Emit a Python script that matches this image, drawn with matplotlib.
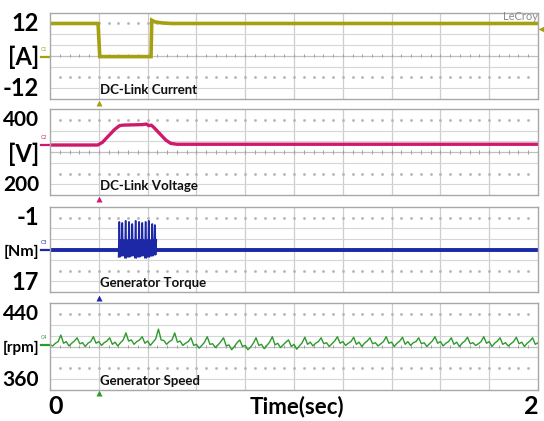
import matplotlib
matplotlib.use("Agg")
import matplotlib.pyplot as plt
import numpy as np

plt.rcParams['font.family'] = ['Liberation Sans Narrow', 'Lato', 'DejaVu Sans']

# scope traces, values in screen divisions (8 divisions per channel, centre = 0)
# DC-link current
cur_t = [0, 0.197, 0.204, 0.414, 0.417, 0.43, 0.46, 0.5, 2.0]
cur_v = [3.0, 3.0, -0.07, -0.07, 3.3, 3.15, 3.05, 3.0, 3.0]

# DC-link voltage
volt_t = [0, 0.196, 0.215, 0.24, 0.265, 0.285, 0.30, 0.38, 0.395, 0.405, 0.415,
          0.425, 0.45, 0.475, 0.495, 0.52, 2.0]
volt_v = [0.65, 0.65, 0.9, 1.5, 2.1, 2.45, 2.5, 2.55, 2.6, 2.45, 2.5,
          2.3, 1.7, 1.1, 0.8, 0.72, 0.72]

# generator torque: flat noisy band plus a burst of spikes
torq_t = [0, 0.279, 0.43, 0.46, 2.0]
torq_v = [0, 0, 0, 0, 0]
spike_t = [0.284, 0.296, 0.310, 0.324, 0.337, 0.351, 0.365, 0.378, 0.392, 0.405, 0.419, 0.430]
spike_h = [2.6, 2.5, 2.7, 2.6, 2.4, 2.7, 2.6, 2.5, 2.6, 2.7, 2.4, 2.3]
spike_lo = [-0.7, -0.6, -0.8, -0.7, -0.6, -0.8, -0.7, -0.6, -0.8, -0.7, -0.6, -0.5]

# generator speed ripple, sampled every 1/90 s
speed_v = [0.15, 0.05, 0.3, 0.45,
           1.05, 0.3, 0.45, 0.05, 0.3, 0.5,
           0.8, 0.25, 0.35, 0.0, 0.3, 0.45,
           0.9, 0.3, 0.45, 0.1, 0.35, 0.5,
           0.8, 0.2, 0.4, 0.05, 0.35, 0.6,
           1.25, 0.5, 0.6, 0.2, 0.45, 0.6,
           0.9, 0.3, 0.5, 0.1, 0.4, 0.7,
           1.6, 0.6, 0.55, 0.2, 0.45, 0.6,
           1.25, 0.4, 0.5, 0.1, 0.3, 0.45,
           0.8, 0.1, 0.2, -0.15, 0.1, 0.4,
           0.9, 0.2, 0.25, -0.1, 0.15, 0.45,
           0.8, 0.05, 0.15, -0.3, 0.0, 0.35,
           0.6, 0.0, 0.1, -0.3, -0.05, 0.3,
           0.8, 0.1, 0.2, -0.2, 0.1, 0.4,
           0.9, 0.15, 0.3, -0.1, 0.15, 0.4,
           0.6, 0.0, 0.2, -0.25, 0.05, 0.35,
           0.85, 0.2, 0.4, 0.05, 0.3, 0.45,
           0.8, 0.25, 0.35, 0.0, 0.25, 0.5,
           0.9, 0.3, 0.45, 0.1, 0.3, 0.45,
           0.85, 0.2, 0.4, 0.0, 0.3, 0.5,
           0.8, 0.25, 0.35, 0.05, 0.25, 0.45,
           0.9, 0.3, 0.4, 0.0, 0.3, 0.5,
           0.85, 0.2, 0.45, 0.1, 0.35, 0.45,
           0.8, 0.25, 0.35, 0.0, 0.25, 0.5,
           0.9, 0.3, 0.45, 0.05, 0.3, 0.45,
           0.8, 0.2, 0.4, 0.0, 0.3, 0.5,
           0.85, 0.25, 0.35, 0.1, 0.25, 0.45,
           0.9, 0.3, 0.45, 0.0, 0.3, 0.5,
           0.8, 0.2, 0.35, 0.05, 0.25, 0.45,
           0.85, 0.25, 0.4, 0.0, 0.3, 0.5,
           0.8, 0.2, 0.35, 0.05, 0.25, 0.4]

ch_names = ['DC-Link Current', 'DC-Link Voltage', 'Generator Torque', 'Generator Speed']
ch_colors = ['#a59f12', '#cf1a6c', '#1c28a6', '#2c9a2c']
ch_tags = ['C1', 'C2', 'C3', 'C4']
ch_base = [-0.07, 0.65, 0.0, 0.14]
top_lbl = ['12', '400', '-1', '440']
mid_lbl = ['[A]', '[V]', '[Nm]', '[rpm]']
bot_lbl = ['-12', '200', '17', '360']

W, H = 544, 421
fig = plt.figure(figsize=(W / 100, H / 100), dpi=100)

# panel rows in pixels (top, bottom)
rows = [(12.7, 99), (109, 195), (207, 292), (303, 390)]
left, right = 50, 538
axs = []
for top, bot in rows:
    ax = fig.add_axes([left / W, 1 - bot / H, (right - left) / W, (bot - top) / H])
    ax.set_xlim(0, 2)
    ax.set_ylim(-4, 4)
    ax.set_xticks([])
    ax.set_yticks([])
    for s in ax.spines.values():
        s.set_color('#a8a8a8')
        s.set_linewidth(1.0)
    # scope graticule
    for x in np.arange(0.2, 2.0, 0.2):
        ax.axvline(x, color='#cdcdcd', lw=0.9, zorder=0)
    for y in [-3, -1, 1, 2]:
        ax.axhline(y, color='#d6d6d6', lw=0.8, zorder=0)
    for y in [3, -2]:
        ax.plot(np.arange(0.04, 2, 0.04), np.full(49, y), ls='none', marker='s',
                ms=0.9, color='#b5b5b5', zorder=0)
    ax.axhline(0, color='#c0c0c0', lw=0.9, zorder=0)
    ax.vlines(np.arange(0.04, 2, 0.04), -0.15, 0.15, color='#a0a0a0', lw=0.7, zorder=0)
    axs.append(ax)

# traces
axs[0].plot(cur_t, cur_v, color=ch_colors[0], lw=2.6, solid_joinstyle='miter')
axs[1].plot(volt_t, volt_v, color=ch_colors[1], lw=2.4)
axs[2].plot(torq_t, torq_v, color=ch_colors[2], lw=2.8)
bt, bv = [], []
for st, sh, sl in zip(spike_t, spike_h, spike_lo):
    bt += [st - 0.003, st - 0.0008, st + 0.0008, st + 0.003, st + 0.006]
    bv += [sl, sh, sh, sl, 0.9]
axs[2].plot(bt, bv, color=ch_colors[2], lw=1.1)
axs[2].fill_between([0.279, 0.435], -0.55, 0.5, color=ch_colors[2], lw=0)
speed_t = np.arange(len(speed_v)) * (2.0 / 180)
axs[3].plot(speed_t, speed_v, color=ch_colors[3], lw=1.0)

# channel markers, trigger arrows and names
trig_off = [-4.37, -4.37, -4.55, -4.3]
for ax, name, col, tag, base, toff in zip(axs, ch_names, ch_colors, ch_tags, ch_base, trig_off):
    tr = ax.get_yaxis_transform()
    ax.plot([-0.018, 0.0], [base, base], color=col, lw=1.6, transform=tr, clip_on=False)
    ax.text(-0.012, base + 0.7, tag, color=col, fontsize=3.5, transform=tr,
            ha='center', va='center', family='DejaVu Sans')
    ax.plot([0.2], [toff], marker='^', ms=4.5, color=col, clip_on=False, mec='none')
    ax.text(0.205, -3.15, name, fontsize=9.5, fontweight='bold', color='#111111',
            ha='left', va='center')
axs[0].plot([2.013], [2.5], marker='<', ms=4.5, color=ch_colors[0], clip_on=False, mec='none')

# left-hand scale labels, shrunk until they fit inside the image
side = []
for (top, bot), a, b, c in zip(rows, top_lbl, mid_lbl, bot_lbl):
    side.append(fig.text(39 / W, 1 - (top + 11) / H, a, fontsize=17, fontweight='bold', ha='right', va='center'))
    side.append(fig.text(39 / W, 1 - (top + 45) / H, b, fontsize=17, fontweight='bold', ha='right', va='center'))
    side.append(fig.text(39 / W, 1 - (bot - 10) / H, c, fontsize=17, fontweight='bold', ha='right', va='center'))
fig.canvas.draw()
rend = fig.canvas.get_renderer()
for t in side:
    for _ in range(20):
        if t.get_window_extent(rend).x0 >= 2:
            break
        t.set_fontsize(t.get_fontsize() - 0.5)

fig.text(503 / W, 1 - 17 / H, 'LeCroy', fontsize=8, color='#8c8c8c', ha='left', va='center')
fig.text(56 / W, 1 - 406 / H, '0', fontsize=18, fontweight='bold', ha='center', va='center')
fig.text(531 / W, 1 - 407 / H, '2', fontsize=18, fontweight='bold', ha='center', va='center')
fig.text(297 / W, 1 - 407 / H, 'Time(sec)', fontsize=16, fontweight='bold', ha='center', va='center')

fig.savefig('out.png', dpi=100)
